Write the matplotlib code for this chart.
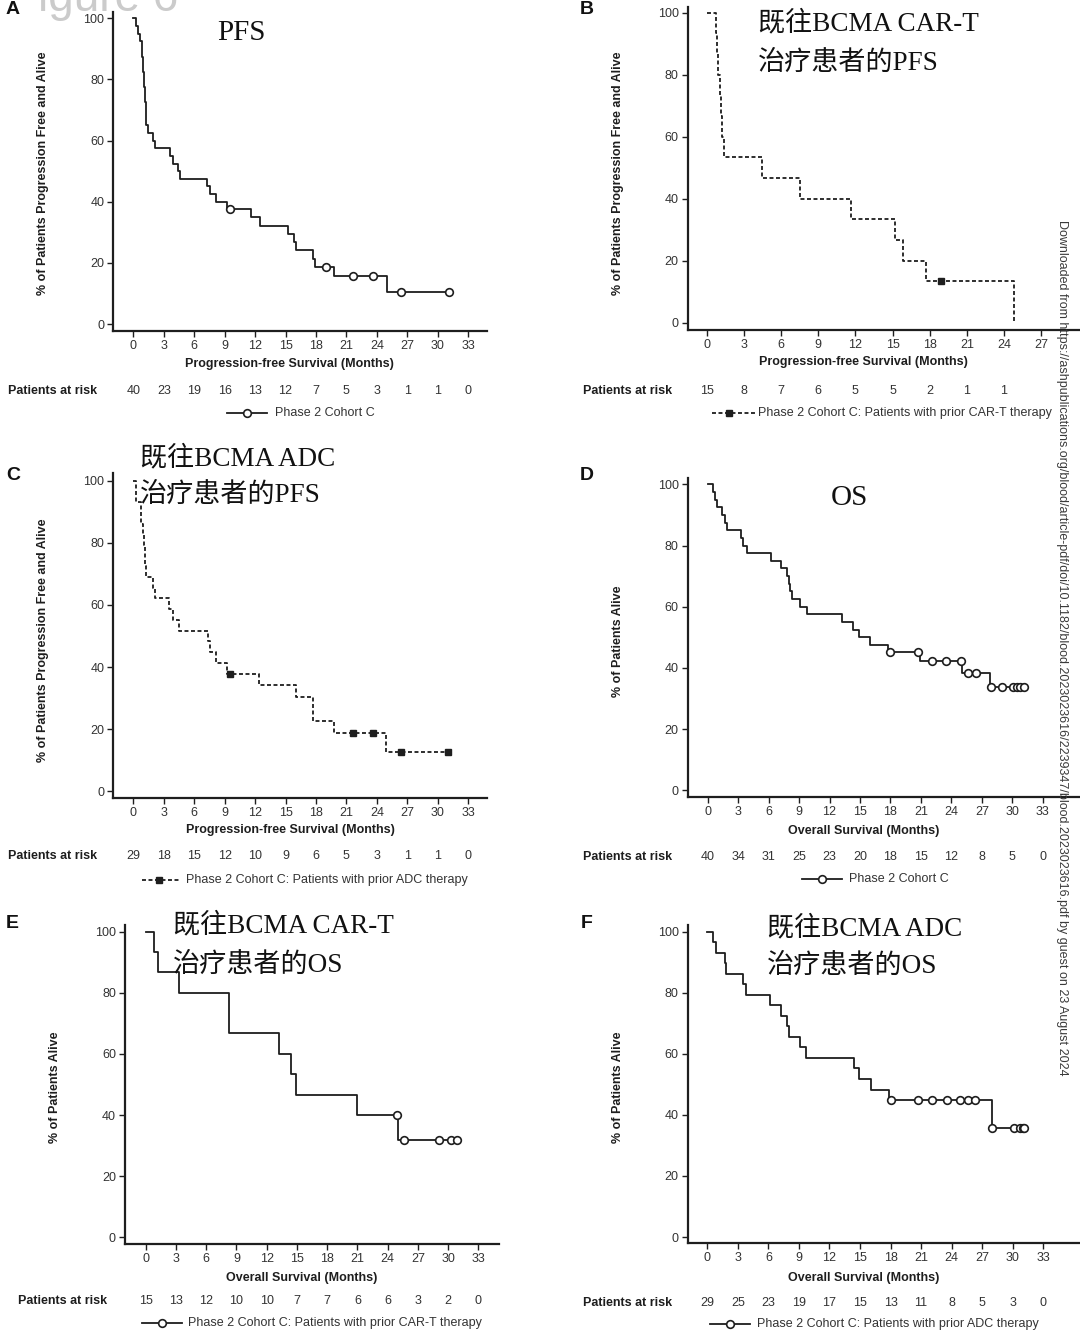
import numpy as np
import matplotlib.pyplot as plt
from matplotlib.lines import Line2D
from matplotlib import transforms

plt.rcParams['font.family'] = ['Liberation Sans', 'DejaVu Sans']

# ---------------- data ----------------
# A: PFS, all Phase 2 Cohort C
times_a = [0, 0.3, 0.45, 0.7, 0.9, 1.0, 1.1, 1.2, 1.3, 1.4, 1.9, 2.1, 3.6, 3.9, 4.4, 4.6,
           7.3, 7.6, 8.1, 9.2, 11.6, 12.5, 15.2, 15.8, 16.0, 17.7, 17.9, 19.8, 25.0]
surv_a = [100, 97.5, 95, 92.5, 87.5, 82.5, 77.5, 72.5, 65, 62.5, 60, 57.5, 55, 52.5, 50, 47.5,
          45, 42.5, 40, 37.5, 34.9, 32.1, 29.4, 26.7, 24.1, 21.4, 18.7, 15.6, 10.4]
censor_a = [9.5, 19.0, 21.6, 23.6, 26.4, 31.1]
last_a = 31.1
risk_a = [40, 23, 19, 16, 13, 12, 7, 5, 3, 1, 1, 0]

# B: PFS, prior CAR-T
times_b = [0, 0.75, 0.85, 0.95, 1.05, 1.15, 1.25, 1.37, 4.46, 7.5, 11.64, 15.2, 15.86, 17.74, 24.84]
surv_b = [100, 93.3, 86.7, 80, 73.3, 66.7, 60, 53.3, 46.7, 40, 33.3, 26.7, 20, 13.3, 0]
censor_b = [18.95]
last_b = 24.84
risk_b = [15, 8, 7, 6, 5, 5, 2, 1, 1]

# C: PFS, prior ADC
times_c = [0, 0.3, 0.8, 1.0, 1.1, 1.15, 1.2, 1.3, 1.9, 2.15, 3.55, 3.9, 4.5, 7.35, 7.55, 8.1,
           9.2, 12.4, 16.0, 17.7, 19.8, 24.9]
surv_c = [100, 93.1, 86.2, 82.8, 79.3, 75.9, 72.4, 69.0, 65.5, 62.1, 58.6, 55.2, 51.7, 48.3,
          44.8, 41.4, 37.9, 34.1, 30.3, 22.7, 18.9, 12.6]
censor_c = [9.5, 21.6, 23.6, 26.4, 31.0]
last_c = 31.0
risk_c = [29, 18, 15, 12, 10, 9, 6, 5, 3, 1, 1, 0]

# D: OS, all Phase 2 Cohort C
times_d = [0, 0.55, 0.7, 0.9, 1.4, 1.75, 1.9, 3.25, 3.5, 3.85, 6.25, 7.2, 7.85, 8.0, 8.15, 8.3,
           9.1, 9.8, 13.2, 14.35, 14.9, 16.0, 17.8, 20.9, 25.0, 27.8]
surv_d = [100, 97.5, 95, 92.5, 90, 87.5, 85, 82.5, 80, 77.5, 75, 72.5, 70, 67.5, 65, 62.5,
          60, 57.5, 55, 52.5, 50, 47.5, 45.2, 42.3, 38.4, 33.6]
censor_d = [18.0, 20.75, 22.1, 23.5, 24.9, 25.6, 26.4, 27.85, 29.0, 30.1, 30.5, 30.8, 31.1]
last_d = 31.1
risk_d = [40, 34, 31, 25, 23, 20, 18, 15, 12, 8, 5, 0]

# E: OS, prior CAR-T
times_e = [0, 0.85, 1.25, 3.3, 8.3, 13.2, 14.4, 14.9, 21.0, 25.0]
surv_e = [100, 93.3, 86.7, 80, 66.7, 60, 53.3, 46.7, 40, 32]
censor_e = [24.9, 25.6, 29.1, 30.25, 30.9]
last_e = 30.9
risk_e = [15, 13, 12, 10, 10, 7, 7, 6, 6, 3, 2, 0]

# F: OS, prior ADC
times_f = [0, 0.6, 0.82, 1.75, 1.85, 3.47, 3.85, 6.15, 7.25, 7.85, 8.0, 9.1, 9.7, 14.4, 14.9,
           16.1, 17.8, 27.95]
surv_f = [100, 96.6, 93.1, 89.7, 86.2, 82.8, 79.3, 75.9, 72.4, 69.0, 65.5, 62.1, 58.6, 55.2,
          51.7, 48.3, 44.8, 35.8]
censor_f = [18.0, 20.7, 22.1, 23.5, 24.85, 25.6, 26.3, 28.0, 30.1, 30.75, 31.0, 31.15]
last_f = 31.15
risk_f = [29, 25, 23, 19, 17, 15, 13, 11, 8, 5, 3, 0]

xticks_long = list(range(0, 34, 3))
xticks_b = list(range(0, 28, 3))
yticks = [0, 20, 40, 60, 80, 100]

pfs_label = "Progression-free Survival (Months)"
os_label = "Overall Survival (Months)"
pfs_ylabel = "% of Patients Progression Free and Alive"
os_ylabel = "% of Patients Alive"
leg_all = "Phase 2 Cohort C"
leg_cart = "Phase 2 Cohort C: Patients with prior CAR-T therapy"
leg_adc = "Phase 2 Cohort C: Patients with prior ADC therapy"

# ---------------- figure ----------------
W, H = 1080, 1331
fig = plt.figure(figsize=(W / 100, H / 100), dpi=100)
INK = "#1e1e1e"
GREY = "#333333"


def fx(x):
    return x / W


def fy(y):
    return 1 - y / H


def km_panel(box, times, surv, censor, last, ticks, dashed, marker):
    # box: left spine, top, bottom spine, right, x px of t=0, px per month, y px of 100, y px of 0
    L, T, B, R, x0, ppm, y100, y0 = box
    ax = fig.add_axes([fx(L), fy(B), (R - L) / W, (B - T) / H])
    ppp = (y0 - y100) / 100
    ax.set_xlim((L - x0) / ppm, (R - x0) / ppm)
    ax.set_ylim((y0 - B) / ppp, (y0 - T) / ppp)
    for s in ["top", "right"]:
        ax.spines[s].set_visible(False)
    for s in ["left", "bottom"]:
        ax.spines[s].set_linewidth(1.6)
        ax.spines[s].set_color(INK)
    ax.set_xticks(ticks)
    ax.set_yticks(yticks)
    ax.tick_params(direction="out", length=4.5, width=1.0, color=INK,
                   labelsize=9, labelcolor=GREY, pad=2)
    ax.patch.set_alpha(0)

    t = np.array(times + [last])
    s = np.array(surv + [surv[-1]])
    ls = (0, (2.2, 1.4)) if dashed else "-"
    ax.step(t, s, where="post", color=INK, lw=1.3, ls=ls, clip_on=False)
    cy = [surv[np.searchsorted(times, c, side="right") - 1] for c in censor]
    if marker == "o":
        ax.plot(censor, cy, "o", ms=5.5, mfc="white", mec=INK, mew=1.2, clip_on=False)
    else:
        ax.plot(censor, cy, "s", ms=4.5, mfc=INK, mec=INK, clip_on=False)
    return ax


def risk_row(ax, ticks, risk, y, label_x):
    tr = transforms.blended_transform_factory(ax.transData, fig.transFigure)
    for tk, n in zip(ticks, risk):
        ax.text(tk, fy(y), str(n), transform=tr, ha="center", va="center",
                fontsize=9, color=GREY)
    fig.text(fx(label_x), fy(y), "Patients at risk", ha="left", va="center",
             fontsize=9, fontweight="bold", color=INK)


def legend(x1, x2, xm, xt, y, text, dashed, marker):
    ls = (0, (2.2, 1.4)) if dashed else "-"
    fig.add_artist(Line2D([fx(x1), fx(x2)], [fy(y), fy(y)], color=INK, lw=1.3, ls=ls,
                          transform=fig.transFigure))
    if marker == "o":
        fig.add_artist(Line2D([fx(xm)], [fy(y)], marker="o", ms=5.5, mfc="white", mec=INK,
                              mew=1.2, transform=fig.transFigure))
    else:
        fig.add_artist(Line2D([fx(xm)], [fy(y)], marker="s", ms=4.5, mfc=INK, mec=INK,
                              transform=fig.transFigure))
    fig.text(fx(xt), fy(y), text, ha="left", va="center", fontsize=9, color=GREY)


def labels(xl, xl_pos, yl, yl_pos):
    fig.text(fx(xl_pos[0]), fy(xl_pos[1]), xl, ha="center", va="center",
             fontsize=9, fontweight="bold", color=INK)
    fig.text(fx(yl_pos[0]), fy(yl_pos[1]), yl, ha="center", va="center", rotation=90,
             fontsize=9, fontweight="bold", color=INK)


def cn_title(x, y, lines, size=19.5):
    for ln, yy in zip(lines, y):
        fig.text(fx(x), fy(yy), ln, ha="left", va="center", fontsize=size,
                 family=["Liberation Serif", "Noto Sans CJK SC"], color="#111111")


# ghost heading cut at the top edge
fig.text(fx(38), fy(11), "igure 6", fontsize=33, color="#cbcbcb", ha="left",
         va="baseline", zorder=0)

# A
ax_a = km_panel((113.3, 11.7, 330.7, 487.3, 133.3, 10.15, 18.3, 324.0),
                times_a, surv_a, censor_a, last_a, xticks_long, False, "o")
risk_row(ax_a, xticks_long, risk_a, 390.7, 8.3)
legend(226.7, 266.7, 246.7, 275, 413.3, leg_all, False, "o")
labels(pfs_label, (289.3, 364.3), pfs_ylabel, (43, 173))
fig.text(fx(241.7), fy(33.3), "PFS", ha="center", va="center", fontsize=21,
         family=["Liberation Serif"], color="#111111")

# B
ax_b = km_panel((687.7, 7.3, 330.0, 1080, 706.7, 12.39, 12.7, 322.7),
                times_b, surv_b, censor_b, last_b, xticks_b, True, "s")
risk_row(ax_b, xticks_b, risk_b, 390.7, 583.3)
legend(711.7, 755, 729.3, 757.7, 413.3, leg_cart, True, "s")
labels(pfs_label, (863.3, 362.3), pfs_ylabel, (618, 173))
cn_title(758, [23.3, 63.3], ["既往BCMA CAR-T", "治疗患者的PFS"])

# C
ax_c = km_panel((113.3, 472.7, 798.3, 487.3, 133.3, 10.15, 480.7, 791.3),
                times_c, surv_c, censor_c, last_c, xticks_long, True, "s")
risk_row(ax_c, xticks_long, risk_c, 856, 8.3)
legend(141.7, 180, 159.3, 186, 880, leg_adc, True, "s")
labels(pfs_label, (290, 830), pfs_ylabel, (43, 640))
cn_title(140, [458, 495], ["既往BCMA ADC", "治疗患者的PFS"])

# D
ax_d = km_panel((687.7, 478.3, 796.7, 1080, 707.7, 10.155, 484.3, 790.3),
                times_d, surv_d, censor_d, last_d, xticks_long, False, "o")
risk_row(ax_d, xticks_long, risk_d, 856.7, 583.3)
legend(801.7, 841.7, 821.7, 849.3, 879.3, leg_all, False, "o")
labels(os_label, (863.3, 831), os_ylabel, (618, 641.7))
fig.text(fx(849), fy(498), "OS", ha="center", va="center", fontsize=21,
         family=["Liberation Serif"], color="#111111")

# E
ax_e = km_panel((125, 925, 1244, 499, 145.7, 10.08, 931.7, 1237.3),
                times_e, surv_e, censor_e, last_e, xticks_long, False, "o")
risk_row(ax_e, xticks_long, risk_e, 1300.7, 18.3)
legend(141.7, 181.7, 161.7, 188.3, 1322.7, leg_cart, False, "o")
labels(os_label, (301.7, 1277.7), os_ylabel, (55, 1087.5))
cn_title(173, [925, 965], ["既往BCMA CAR-T", "治疗患者的OS"])

# F
ax_f = km_panel((687.7, 925, 1243.3, 1080, 707.3, 10.18, 931.7, 1237.0),
                times_f, surv_f, censor_f, last_f, xticks_long, False, "o")
risk_row(ax_f, xticks_long, risk_f, 1303.3, 583.3)
legend(710, 750, 730, 757.3, 1324, leg_adc, False, "o")
labels(os_label, (863.3, 1277.7), os_ylabel, (618, 1087.5))
cn_title(767, [928, 966.7], ["既往BCMA ADC", "治疗患者的OS"])

# panel letters
for letter, (x, y) in zip("ABCDEF", [(13, 10), (587, 9), (13, 475), (587, 475), (12, 923), (587, 923)]):
    fig.text(fx(x), fy(y), letter, ha="center", va="center", fontsize=14,
             fontweight="bold", color="#111111")

# vertical download watermark
fig.text(fx(1062), fy(220), "Downloaded from https://ashpublications.org/blood/article-pdf/doi/"
         "10.1182/blood.2023023616/2239347/blood.2023023616.pdf by guest on 23 August 2024",
         rotation=-90, ha="center", va="top", fontsize=9, color="#3a3a3a")

fig.savefig("out.png", dpi=100)
